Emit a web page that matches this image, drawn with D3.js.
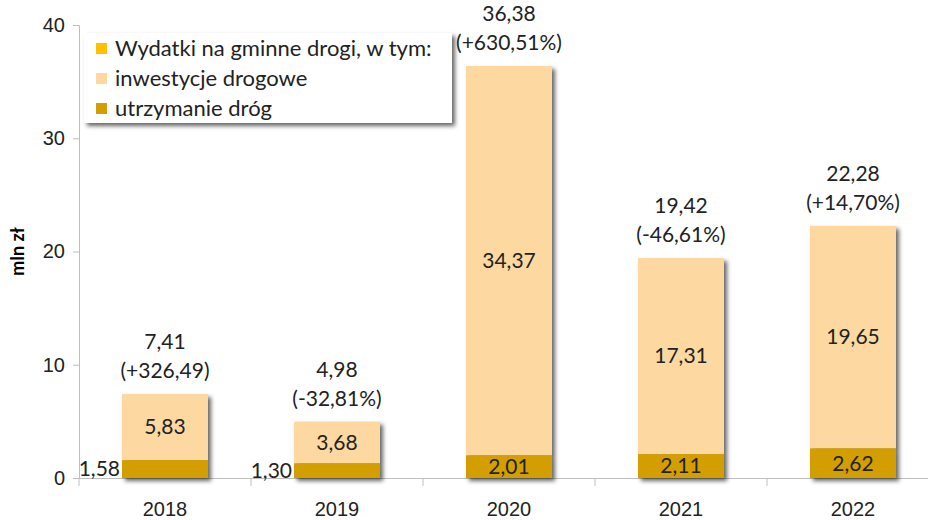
<!DOCTYPE html>
<html>
<head>
<meta charset="utf-8">
<script src="https://cdn.jsdelivr.net/npm/d3@7"></script>
<style>
  body { margin: 0; background: #fff; }
  svg { font-family: Lato, "Open Sans", sans-serif; }
</style>
</head>
<body>
<div id="chart"></div>
<script>
var years = ['2018', '2019', '2020', '2021', '2022'];
var utrzymanie = [1.58, 1.30, 2.01, 2.11, 2.62];
var inwestycje = [5.83, 3.68, 34.37, 17.31, 19.65];
var totals = [7.41, 4.98, 36.38, 19.42, 22.28];
var changes = ['(+326,49)', '(-32,81%)', '(+630,51%)', '(-46,61%)', '(+14,70%)'];
var yTicks = [0, 10, 20, 30, 40];
var legend_names = ['Wydatki na gminne drogi, w tym:', 'inwestycje drogowe', 'utrzymanie dróg'];
var colors = ['#FFC000', '#FDD8A0', '#D39E00'];

var W = 928, H = 520;
var fmt = function(v){ return v.toFixed(2).replace('.', ','); };

var svg = d3.select('#chart').append('svg')
            .attr('width', W).attr('height', H);

var defs = svg.append('defs');
defs.append('filter').attr('id', 'shadow')
    .attr('x', '-20%').attr('y', '-20%').attr('width', '150%').attr('height', '150%')
    .append('feDropShadow')
    .attr('dx', 3).attr('dy', 3).attr('stdDeviation', 2)
    .attr('flood-color', '#000').attr('flood-opacity', 0.6);

var x = d3.scaleBand().domain(years).range([79, 939]).paddingInner(0).paddingOuter(0);
var y = d3.scaleLinear().domain([0, 40]).range([478, 25]);
var barW = x.bandwidth() * 0.5;

// y axis
var yAxis = svg.append('g').attr('transform', 'translate(79,0)')
               .call(d3.axisLeft(y).tickValues(yTicks).tickSize(6).tickPadding(8));
yAxis.select('.domain').attr('stroke', '#BFBFBF');
yAxis.selectAll('.tick line').attr('stroke', '#BFBFBF');
yAxis.selectAll('.tick text').style('font-size', '20px').attr('fill', '#222');

// x axis
var xAxis = svg.append('g').attr('transform', 'translate(0,478)')
               .call(d3.axisBottom(x).tickSize(0).tickPadding(24));
xAxis.select('.domain').attr('stroke', '#BFBFBF');
xAxis.selectAll('.tick text').style('font-size', '20px').attr('fill', '#222');
svg.append('g').selectAll('line').data(years).enter().append('line')
   .attr('x1', d => x(d)).attr('x2', d => x(d))
   .attr('y1', 478).attr('y2', 486)
   .attr('stroke', '#BFBFBF');

svg.append('text')
   .attr('transform', 'translate(24,' + y(20) + ') rotate(-90)')
   .attr('text-anchor', 'middle')
   .style('font-size', '18px').style('font-weight', 'bold')
   .text('mln zł');

// bars
var bars = svg.append('g');
var g = bars.selectAll('g').data(years).enter().append('g')
            .attr('filter', 'url(#shadow)');
g.append('rect')
 .attr('x', d => x(d) + (x.bandwidth() - barW) / 2)
 .attr('width', barW)
 .attr('y', (d, i) => y(utrzymanie[i] + inwestycje[i]))
 .attr('height', (d, i) => y(utrzymanie[i]) - y(utrzymanie[i] + inwestycje[i]))
 .attr('fill', colors[1]);
g.append('rect')
 .attr('x', d => x(d) + (x.bandwidth() - barW) / 2)
 .attr('width', barW)
 .attr('y', (d, i) => y(utrzymanie[i]))
 .attr('height', (d, i) => y(0) - y(utrzymanie[i]))
 .attr('fill', colors[2]);

// labels
var labels = svg.append('g').style('font-size', '21px').attr('fill', '#222');
years.forEach(function(yr, i){
  var cx = x(yr) + x.bandwidth() / 2;
  labels.append('text')
        .attr('x', cx).attr('y', y((utrzymanie[i] + inwestycje[i] + utrzymanie[i]) / 2))
        .attr('dy', '0.35em').attr('text-anchor', 'middle')
        .text(fmt(inwestycje[i]));
  var small = i < 2;
  labels.append('text')
        .attr('x', small ? cx - barW / 2 - 2 : cx)
        .attr('y', y(utrzymanie[i] / 2))
        .attr('dy', '0.35em').attr('text-anchor', small ? 'end' : 'middle')
        .text(fmt(utrzymanie[i]));
  var top = y(totals[i]);
  labels.append('text').attr('x', cx).attr('y', top - 45)
        .attr('text-anchor', 'middle').text(fmt(totals[i]));
  labels.append('text').attr('x', cx).attr('y', top - 16)
        .attr('text-anchor', 'middle').text(changes[i]);
});

// legend
var leg = svg.append('g');
leg.append('rect').attr('x', 84).attr('y', 33).attr('width', 368).attr('height', 90)
   .attr('fill', '#fff').attr('filter', 'url(#shadow)');
legend_names.forEach(function(name, i){
  var ly = 48 + i * 30;
  leg.append('rect').attr('x', 96).attr('y', ly - 5).attr('width', 11).attr('height', 11)
     .attr('fill', colors[i]);
  leg.append('text').attr('x', 115).attr('y', ly).attr('dy', '0.35em')
     .style('font-size', '22px').attr('fill', '#222').text(name);
});
</script>
</body>
</html>
